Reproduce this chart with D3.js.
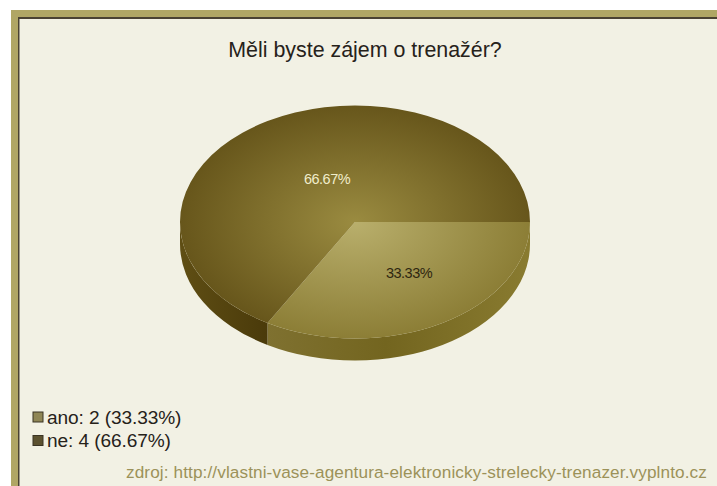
<!DOCTYPE html>
<html lang="cs">
<head>
<meta charset="utf-8">
<style>
  html, body { margin: 0; padding: 0; background: #fff; }
  svg { display: block; }
  text { font-family: "Liberation Sans", Arial, sans-serif; }
</style>
</head>
<body>
<svg id="chart" width="717" height="486"></svg>
<script src="https://cdn.jsdelivr.net/npm/d3@7"></script>
<script>
// Survey answers
const categories = ["ano", "ne"];
const counts = [2, 4];
const titleText = "Měli byste zájem o trenažér?";
const sourceText = "zdroj: http://vlastni-vase-agentura-elektronicky-strelecky-trenazer.vyplnto.cz";

const svg = d3.select("#chart");

// Panel frame
svg.append("rect").attr("x", 11).attr("y", 10).attr("width", 706).attr("height", 476).attr("fill", "#b0a665");
svg.append("rect").attr("x", 18).attr("y", 17).attr("width", 699).attr("height", 469).attr("fill", "#4a4233");
svg.append("rect").attr("x", 19.5).attr("y", 19).attr("width", 697.5).attr("height", 467).attr("fill", "#f2f1e4");

// Pie geometry: a disc tilted into an ellipse, with an extruded rim
const cx = 355, cy = 222, rx = 175, ry = 116.5, depth = 22;
const fmt = d3.format(".2f");
const total = d3.sum(counts);
const pct = v => fmt(v / total * 100);

const pie = d3.pie().sort(null).startAngle(Math.PI / 2).endAngle(Math.PI / 2 + 2 * Math.PI);
const arcs = pie(counts);
const arc = d3.arc().innerRadius(0).outerRadius(rx);

const defs = svg.append("defs");
const radial = (id, inner, outer) => {
  const g = defs.append("radialGradient").attr("id", id)
    .attr("gradientUnits", "userSpaceOnUse")
    .attr("cx", 0).attr("cy", 0).attr("r", rx);
  g.append("stop").attr("offset", 0).attr("stop-color", inner);
  g.append("stop").attr("offset", 1).attr("stop-color", outer);
};
radial("face-ano", "#b9af6c", "#8c7e36");
radial("face-ne", "#9a8b40", "#67561b");

const rimLight = defs.append("linearGradient").attr("id", "rim-ano")
  .attr("gradientUnits", "userSpaceOnUse")
  .attr("x1", 268).attr("x2", 530).attr("y1", 0).attr("y2", 0);
[[0, "#7f7130"], [0.45, "#73651f"], [1, "#897b30"]].forEach(([o, c]) =>
  rimLight.append("stop").attr("offset", o).attr("stop-color", c));

const rimDark = defs.append("linearGradient").attr("id", "rim-ne")
  .attr("gradientUnits", "userSpaceOnUse")
  .attr("x1", 180).attr("x2", 268).attr("y1", 0).attr("y2", 0);
[[0, "#5f4e14"], [1, "#4a3a0a"]].forEach(([o, c]) =>
  rimDark.append("stop").attr("offset", o).attr("stop-color", c));

// Front-facing rim between two pie angles (0 = 12 o'clock, clockwise)
const px = a => cx + rx * Math.sin(a);
const py = a => cy - ry * Math.cos(a);
const rimPath = (a0, a1) => {
  const x0 = px(a0), y0 = py(a0), x1 = px(a1), y1 = py(a1);
  return `M${x0},${y0}A${rx},${ry} 0 0 1 ${x1},${y1}L${x1},${y1 + depth}` +
         `A${rx},${ry} 0 0 0 ${x0},${y0 + depth}Z`;
};

// Only the part of each slice on the lower half of the ellipse shows its rim
svg.selectAll("path.rim").data(arcs).join("path")
  .attr("class", "rim")
  .attr("d", d => rimPath(d.startAngle, Math.min(d.endAngle, 1.5 * Math.PI)))
  .attr("fill", (d, i) => `url(#rim-${categories[i]})`);

svg.append("g")
  .attr("transform", `translate(${cx},${cy}) scale(1,${ry / rx})`)
  .selectAll("path").data(arcs).join("path")
  .attr("d", arc)
  .attr("fill", (d, i) => `url(#face-${categories[i]})`);

// Percentages on the slices
const sliceLabel = [{ x: 409, y: 278, fill: "#2e2610" }, { x: 327, y: 184, fill: "#f1edcb" }];
svg.selectAll("text.pct").data(counts).join("text")
  .attr("class", "pct")
  .attr("x", (d, i) => sliceLabel[i].x)
  .attr("y", (d, i) => sliceLabel[i].y)
  .attr("text-anchor", "middle")
  .attr("font-size", 14.5)
  .attr("letter-spacing", -0.5)
  .attr("fill", (d, i) => sliceLabel[i].fill)
  .text(d => `${pct(d)}%`);

// Title
svg.append("text")
  .attr("x", 365).attr("y", 57)
  .attr("text-anchor", "middle")
  .attr("font-size", 21.4)
  .attr("fill", "#26221a")
  .text(titleText);

// Legend
const legendColor = ["#8f8655", "#5c5230"];
const legend = svg.selectAll("g.legend").data(categories).join("g")
  .attr("class", "legend")
  .attr("transform", (d, i) => `translate(33,${412 + i * 23.5})`);
legend.append("rect")
  .attr("width", 10).attr("height", 10)
  .attr("fill", (d, i) => legendColor[i])
  .attr("stroke", "#3a3424");
legend.append("text")
  .attr("x", 14).attr("y", 11.5)
  .attr("font-size", 19.1)
  .attr("letter-spacing", -0.1)
  .attr("fill", "#26221a")
  .text((d, i) => `${d}: ${counts[i]} (${pct(counts[i])}%)`);

// Source line
svg.append("text")
  .attr("x", 126).attr("y", 478)
  .attr("font-size", 17.2)
  .attr("letter-spacing", 0.1)
  .attr("fill", "#9c9259")
  .text(sourceText);
</script>
</body>
</html>
